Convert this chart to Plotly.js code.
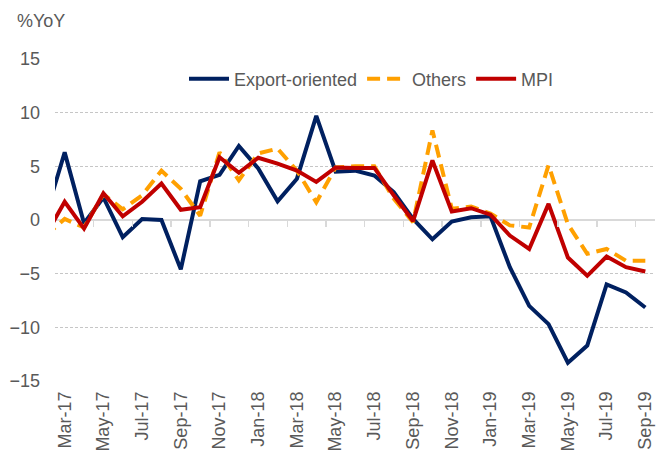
<!DOCTYPE html>
<html>
<head>
<meta charset="utf-8">
<script src="https://cdn.plot.ly/plotly-3.0.1.min.js"></script>
<style>html,body{margin:0;padding:0;background:#fff;}#chart{width:662px;height:459px;}</style>
</head>
<body>
<div id="chart"></div>
<script>
// Months (Feb-17 is only partly visible at the left edge)
var months = ["Feb-17","Mar-17","Apr-17","May-17","Jun-17","Jul-17","Aug-17","Sep-17","Oct-17","Nov-17","Dec-17",
  "Jan-18","Feb-18","Mar-18","Apr-18","May-18","Jun-18","Jul-18","Aug-18","Sep-18","Oct-18","Nov-18","Dec-18",
  "Jan-19","Feb-19","Mar-19","Apr-19","May-19","Jun-19","Jul-19","Aug-19","Sep-19"];
var exportOriented = [0.3,6.3,-0.3,2.1,-1.6,0.1,0.0,-4.6,3.6,4.2,6.9,4.8,1.75,3.85,9.7,4.5,4.6,4.15,2.6,0.1,-1.8,-0.15,0.25,0.35,-4.4,-8.0,-9.7,-13.3,-11.7,-6.0,-6.75,-8.15];
var others = [-1.5,0.1,-0.7,2.4,1.0,2.3,4.6,2.9,0.4,6.3,3.7,6.2,6.65,4.6,1.65,4.9,5.0,5.0,2.0,-0.2,8.35,1.05,1.25,0.6,-0.5,-0.7,5.1,-0.4,-3.15,-2.7,-3.8,-3.8];
var mpi = [-1.5,1.7,-0.8,2.5,0.35,1.7,3.4,0.95,1.2,5.85,4.4,5.8,5.25,4.6,3.55,4.9,4.85,4.85,2.3,-0.1,5.55,0.8,1.1,0.5,-1.45,-2.7,1.5,-3.5,-5.2,-3.4,-4.4,-4.8];
var tickLabels = ["Mar-17","May-17","Jul-17","Sep-17","Nov-17","Jan-18","Mar-18","May-18","Jul-18","Sep-18","Nov-18","Jan-19","Mar-19","May-19","Jul-19","Sep-19"];
var yTicks = [-15,-10,-5,0,5,10,15];

var font = "Liberation Sans, Arial, sans-serif";
var txt = "#595959";

// boundary tick positions on the zero line (every second category boundary)
var boundaryTicks = [];
for (var k = 2.5; k <= months.length - 0.5; k += 2) boundaryTicks.push(k);

var traces = [
  {x: months, y: exportOriented, name: "Export-oriented", type: "scatter", mode: "lines",
   line: {color: "#002060", width: 4}},
  {x: months, y: others, name: "Others", type: "scatter", mode: "lines",
   line: {color: "#FFA000", width: 4, dash: "13px,7px"}},
  {x: months, y: mpi, name: "MPI", type: "scatter", mode: "lines",
   line: {color: "#C00000", width: 4}},
  {x: [months.length - 0.5], y: [0], xaxis: "x2", yaxis: "y", type: "scatter", mode: "none",
   showlegend: false, hoverinfo: "skip"}
];

var layout = {
  width: 662, height: 459,
  margin: {l: 55, r: 7, t: 59, b: 78},
  paper_bgcolor: "#fff", plot_bgcolor: "#fff",
  font: {family: font, size: 18, color: txt},
  showlegend: true,
  legend: {orientation: "h", x: 0.215, y: 0.938, xanchor: "left", yanchor: "middle",
    font: {family: font, size: 18, color: txt}, bgcolor: "rgba(0,0,0,0)", itemwidth: 40},
  xaxis: {type: "category", categoryorder: "array", categoryarray: months,
    range: [0.5, months.length - 0.5], tickmode: "array", tickvals: tickLabels, ticktext: tickLabels,
    tickangle: -90, ticks: "", showgrid: false, zeroline: false, showline: false,
    ticklabelstandoff: 6, tickfont: {family: font, size: 18, color: txt}},
  xaxis2: {overlaying: "x", anchor: "free", position: 0.5, type: "linear",
    range: [0.5, months.length - 0.5], tickmode: "array", tickvals: boundaryTicks,
    showticklabels: false, ticks: "outside", ticklen: 6, tickwidth: 1.5, tickcolor: "#d9d9d9",
    showgrid: false, zeroline: false, showline: false},
  yaxis: {range: [-15, 15], tickmode: "array", tickvals: yTicks, ticks: "",
    showgrid: true, gridcolor: "#c6c6c6", gridwidth: 1, griddash: "3px,2px",
    zeroline: true, zerolinecolor: "#d9d9d9", zerolinewidth: 2, showline: false,
    ticklabelstandoff: 14, tickfont: {family: font, size: 18, color: txt}},
  annotations: [{text: "%YoY", xref: "paper", yref: "paper", x: -0.066, y: 1.118,
    xanchor: "left", yanchor: "middle", showarrow: false, font: {family: font, size: 18, color: txt}}]
};

Plotly.newPlot("chart", traces, layout, {displayModeBar: false, staticPlot: true});
</script>
</body>
</html>
